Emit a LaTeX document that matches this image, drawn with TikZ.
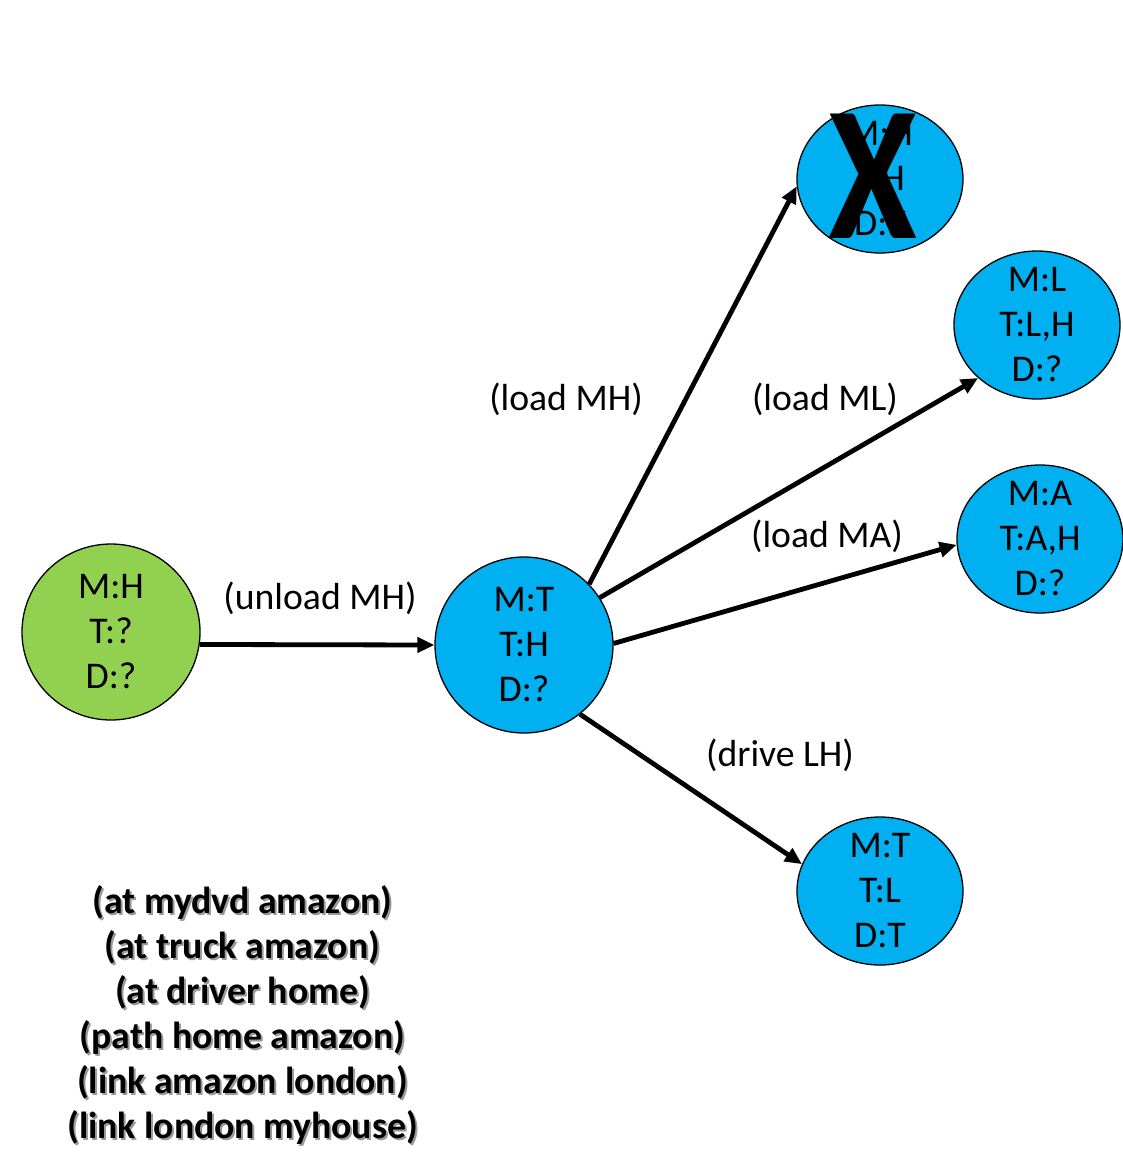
\documentclass[tikz,border=0pt]{standalone}
\usepackage{fontspec}
\setmainfont{Carlito}
\usetikzlibrary{shapes.geometric,arrows.meta}
\definecolor{stategreen}{HTML}{92D050}
\definecolor{stateblue}{HTML}{00B0F0}
\definecolor{shadowgray}{HTML}{9A9A9A}
\begin{document}
\begin{tikzpicture}[x=1pt,y=-1pt,
  state/.style={ellipse,draw=black,line width=1.3pt,inner sep=-30pt,align=center,
    font=\fontsize{37.7}{45}\selectfont},
  bigstate/.style={state,minimum width=178pt,minimum height=176pt},
  smallstate/.style={state,minimum width=166pt,minimum height=148pt},
  act/.style={line width=4.8pt,-{Triangle[length=17pt,width=15pt]}},
  actlabel/.style={font=\fontsize{37.7}{45}\selectfont,inner sep=0pt},
  facts/.style={align=center,inner sep=0pt,font=\fontsize{37.7}{45}\selectfont\bfseries}]
\useasboundingbox (0,0) rectangle (1123,1176);

% states
\node[bigstate,fill=stategreen] (init) at (111,632) {M:H\\T:?\\D:?};
\node[bigstate,fill=stateblue] (mid) at (524,645) {M:T\\T:H\\D:?};
\node[smallstate,fill=stateblue] (dead) at (880,179) {M:H\\T:H\\D:T};
\node[smallstate,fill=stateblue] (ml) at (1037,325) {M:L\\T:L,H\\D:?};
\node[smallstate,fill=stateblue] (ma) at (1040,539) {M:A\\T:A,H\\D:?};
\node[smallstate,fill=stateblue] (lh) at (880,891) {M:T\\T:L\\D:T};

% cross over the pruned state
\node[inner sep=0pt,xscale=0.84,font=\fontsize{192}{192}\selectfont\bfseries] (cross) at (873,176) {X};

% actions
\draw[act] (init.-8) -- (mid.180);
\draw[act] (mid.43) -- (dead.185);
\draw[act] (mid.32) -- (ml.222);
\draw[act] (mid.1) -- (ma.184);
\draw[act] (mid.-51) -- (lh.161);

\node[actlabel] (lunload) at (320,598) {(unload MH)};
\node[actlabel] (lmh) at (566,399) {(load MH)};
\node[actlabel] (lml) at (825,399) {(load ML)};
\node[actlabel] (lma) at (827,536) {(load MA)};
\node[actlabel] (ldrive) at (780,755) {(drive LH)};

% initial facts with drop shadow
\node[facts,text=shadowgray] (factsshadow) at (244.5,1016.5) {(at mydvd amazon)\\(at truck amazon)\\(at driver home)\\(path home amazon)\\(link amazon london)\\(link london myhouse)};
\node[facts] (facts) at (242.5,1014.5) {(at mydvd amazon)\\(at truck amazon)\\(at driver home)\\(path home amazon)\\(link amazon london)\\(link london myhouse)};
\end{tikzpicture}
\end{document}
